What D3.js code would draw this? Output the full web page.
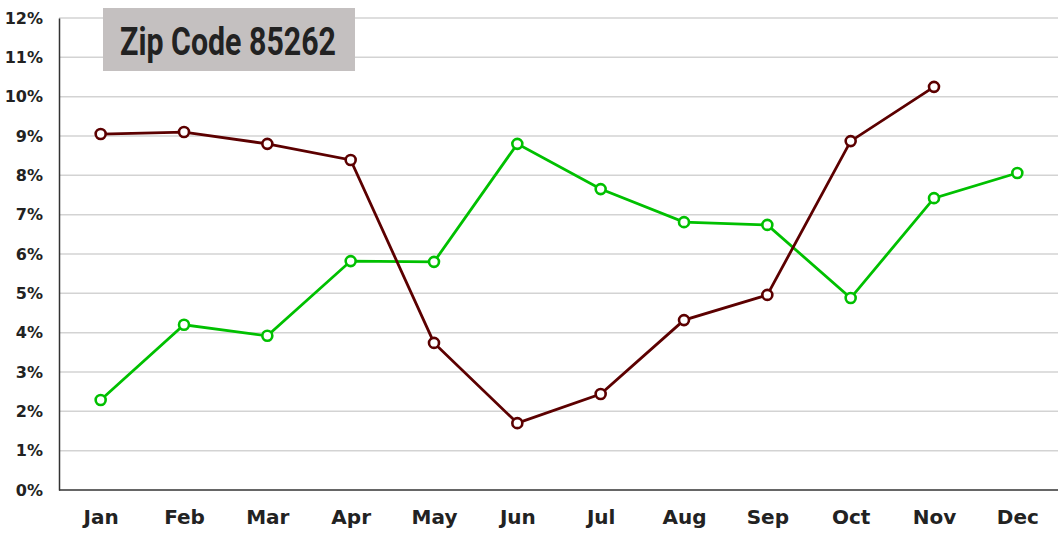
<!DOCTYPE html>
<html>
<head>
<meta charset="utf-8">
<script src="https://cdn.jsdelivr.net/npm/d3@7"></script>
<style>
  body { margin: 0; background: #fff; }
  .tick text { font-family: "DejaVu Sans", Verdana, sans-serif; font-weight: bold; fill: #222; }
  .y-axis .tick text { font-size: 16px; }
  .x-axis .tick text { font-size: 20px; }
</style>
</head>
<body>
<div id="chart"></div>
<script>
const months = ["Jan", "Feb", "Mar", "Apr", "May", "Jun", "Jul", "Aug", "Sep", "Oct", "Nov", "Dec"];
const yTicks = [0, 1, 2, 3, 4, 5, 6, 7, 8, 9, 10, 11, 12];
// dark red series (no Dec value)
const seriesDark = [9.05, 9.10, 8.80, 8.39, 3.74, 1.70, 2.44, 4.32, 4.96, 8.87, 10.25, null];
// green series
const seriesGreen = [2.29, 4.20, 3.92, 5.82, 5.80, 8.80, 7.65, 6.81, 6.74, 4.88, 7.42, 8.06];
const title = "Zip Code 85262";

const w = 1058;
const h = 538;
const padL = 59, padR = 1059, padT = 18, padB = 490;

const svg = d3.select("#chart").append("svg")
  .attr("width", w)
  .attr("height", h);

const x = d3.scalePoint()
  .domain(months)
  .range([padL, padR])
  .padding(0.5);

const y = d3.scaleLinear()
  .domain([0, 12])
  .range([padB, padT]);

// gridlines
svg.append("g")
  .selectAll("line")
  .data(yTicks.filter(d => d > 0))
  .enter()
  .append("line")
  .attr("x1", padL)
  .attr("x2", w)
  .attr("y1", d => y(d))
  .attr("y2", d => y(d))
  .attr("stroke", "#d3d3d3")
  .attr("stroke-width", 1.5);

// axes
const yAxis = svg.append("g")
  .attr("class", "y-axis")
  .attr("transform", "translate(" + padL + ",0)")
  .call(d3.axisLeft(y).tickValues(yTicks).tickFormat(d => d + "%").tickSize(0).tickPadding(16));
yAxis.select(".domain").attr("stroke", "#333").attr("stroke-width", 1.5);

const xAxis = svg.append("g")
  .attr("class", "x-axis")
  .attr("transform", "translate(0," + padB + ")")
  .call(d3.axisBottom(x).tickSize(0).tickPadding(20));
xAxis.select(".domain").attr("stroke", "#333").attr("stroke-width", 1.5).attr("d", "M" + padL + ",0H" + w);

// title box
svg.append("rect")
  .attr("x", 103)
  .attr("y", 8)
  .attr("width", 252)
  .attr("height", 63)
  .attr("fill", "#c4c0c0");
svg.append("text")
  .attr("x", 120)
  .attr("y", 55)
  .attr("textLength", 216)
  .attr("lengthAdjust", "spacingAndGlyphs")
  .style("font-family", "'Liberation Sans Narrow', 'Roboto', sans-serif")
  .style("font-weight", "bold")
  .style("font-size", "38px")
  .style("fill", "#222")
  .text(title);

function drawSeries(vals, color) {
  const pts = vals.map((v, i) => ({ m: months[i], v: v })).filter(d => d.v !== null);
  const line = d3.line()
    .x(d => x(d.m))
    .y(d => y(d.v));
  svg.append("path")
    .datum(pts)
    .attr("d", line)
    .attr("fill", "none")
    .attr("stroke", color)
    .attr("stroke-width", 2.8);
  svg.append("g")
    .selectAll("circle")
    .data(pts)
    .enter()
    .append("circle")
    .attr("cx", d => x(d.m))
    .attr("cy", d => y(d.v))
    .attr("r", 5)
    .attr("fill", "#fff")
    .attr("stroke", color)
    .attr("stroke-width", 2.6);
}

drawSeries(seriesGreen, "#00c000");
drawSeries(seriesDark, "#5c0000");
</script>
</body>
</html>
